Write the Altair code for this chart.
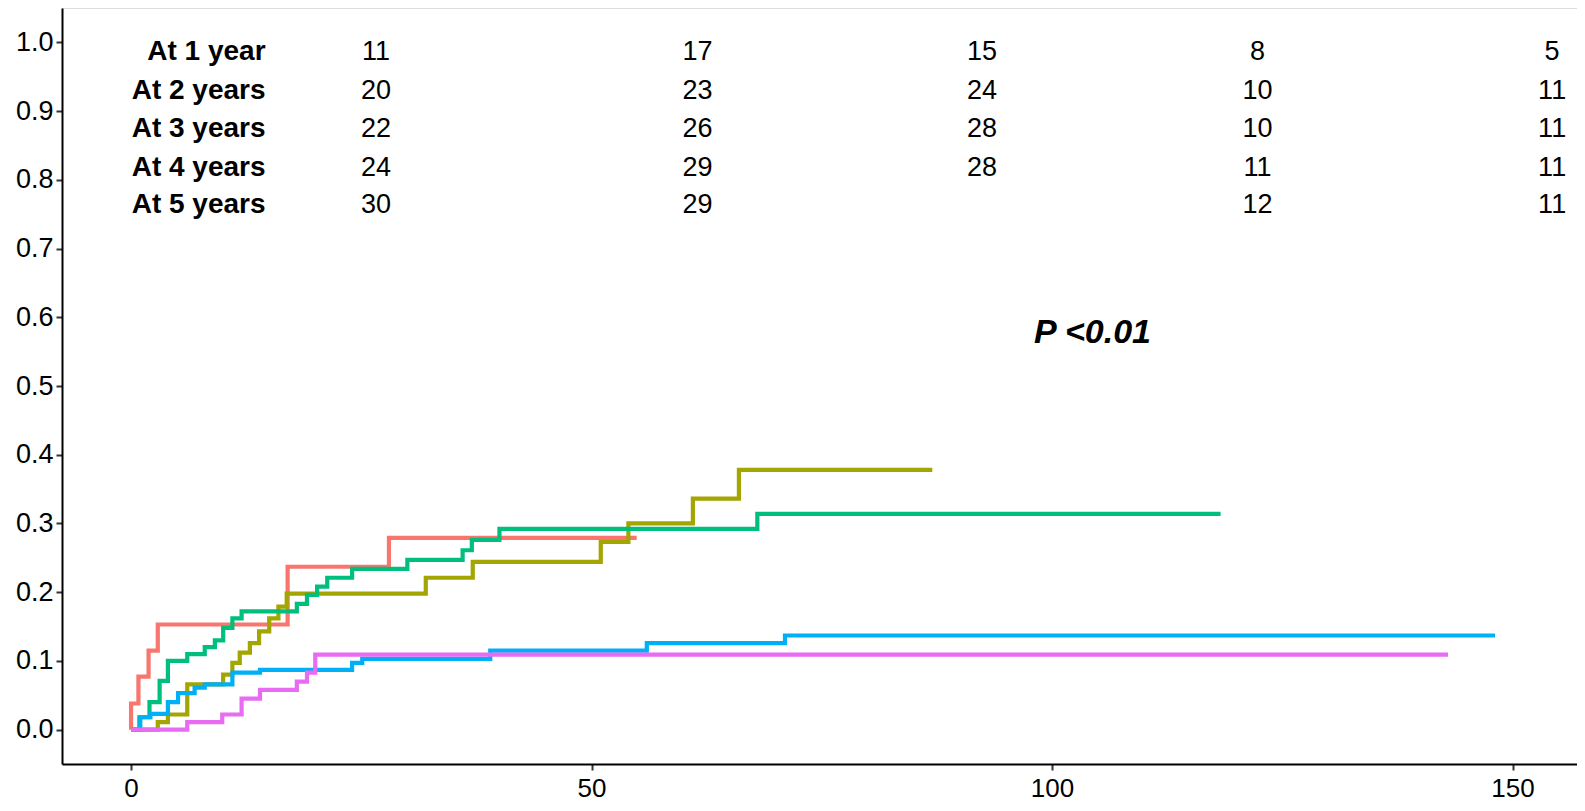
import altair as alt
import pandas as pd

# ---------------- data ----------------
groups = ["Group 1", "Group 2", "Group 3", "Group 4", "Group 5"]
colors = ["#F8766D", "#A3A500", "#00BF7D", "#00B0F6", "#E76BF3"]

red_t = [0, 0, 0.8, 1.9, 2.9, 17.0, 28.0, 54.9]
red_y = [0, 0.038, 0.077, 0.115, 0.153, 0.237, 0.279, 0.279]

olive_t = [0, 2.9, 4.0, 6.1, 10.0, 11.0, 11.8, 12.9, 13.9, 15.0, 16.0, 16.9,
           32.0, 37.1, 51.0, 54.0, 61.0, 66.0, 87.0]
olive_y = [0, 0.011, 0.022, 0.066, 0.080, 0.097, 0.112, 0.126, 0.143, 0.162,
           0.179, 0.198, 0.221, 0.244, 0.273, 0.300, 0.336, 0.378, 0.378]

green_t = [0, 0.9, 2.0, 3.1, 4.0, 6.1, 8.0, 9.1, 10.0, 11.0, 12.0, 18.0, 19.1,
           20.2, 21.3, 24.0, 30.0, 36.0, 37.0, 40.0, 68.0, 118.3]
green_y = [0, 0.018, 0.040, 0.071, 0.100, 0.110, 0.120, 0.130, 0.148, 0.162,
           0.172, 0.183, 0.196, 0.208, 0.221, 0.234, 0.247, 0.261, 0.276,
           0.292, 0.314, 0.314]

blue_t = [0, 1.0, 2.1, 4.0, 5.1, 6.9, 8.0, 11.0, 14.0, 24.0, 25.1, 39.0, 56.0,
          71.0, 148.1]
blue_y = [0, 0.018, 0.023, 0.040, 0.053, 0.061, 0.066, 0.083, 0.087, 0.097,
          0.103, 0.115, 0.126, 0.137, 0.137]

magenta_t = [0, 6.1, 9.9, 12.0, 14.0, 18.0, 19.1, 20.0, 143.0]
magenta_y = [0, 0.011, 0.022, 0.045, 0.058, 0.070, 0.083, 0.109, 0.109]

row_labels = ["At 1 year", "At 2 years", "At 3 years", "At 4 years", "At 5 years"]
col1 = ["11", "20", "22", "24", "30"]
col2 = ["17", "23", "26", "29", "29"]
col3 = ["15", "24", "28", "28", ""]
col4 = ["8", "10", "10", "11", "12"]
col5 = ["5", "11", "11", "11", "11"]

p_text = "P <0.01"

x_ticks = [0, 50, 100, 150]
y_ticks = [0.0, 0.1, 0.2, 0.3, 0.4, 0.5, 0.6, 0.7, 0.8, 0.9, 1.0]

# ---------------- layout constants ----------------
row_y = [0.974, 0.918, 0.862, 0.806, 0.751]
col_x = [26.6, 61.5, 92.4, 122.3, 154.3]
label_x = 14.6
p_pos = (104.4, 0.563)

FONT = "Liberation Sans"

x_scale = alt.Scale(domain=[-7.5, 157], nice=False, zero=False)
y_scale = alt.Scale(domain=[-0.05, 1.05], nice=False, zero=False)

x_axis = alt.Axis(values=x_ticks, title=None, grid=False, format="d",
                  labelFontSize=26, labelFont=FONT, labelColor="#000000",
                  tickSize=6, tickWidth=2, tickColor="#333333",
                  domainColor="#000000", domainWidth=2, labelPadding=5)
y_axis = alt.Axis(values=y_ticks, title=None, grid=False, format=".1f",
                  labelFontSize=27, labelFont=FONT, labelColor="#000000",
                  tickSize=6, tickWidth=2, tickColor="#333333",
                  domainColor="#000000", domainWidth=2, labelPadding=3)

series = [(red_t, red_y), (olive_t, olive_y), (green_t, green_y),
          (blue_t, blue_y), (magenta_t, magenta_y)]

layers = []
for gi, (ts, ys) in enumerate(series):
    d = pd.DataFrame({"time": ts, "cuminc": ys,
                      "seq": list(range(len(ts))),
                      "group": [groups[gi]] * len(ts)})
    layers.append(
        alt.Chart(d).mark_line(interpolate="step-after", strokeWidth=4.2,
                               color=colors[gi], strokeCap="butt")
        .encode(
            x=alt.X("time:Q", scale=x_scale, axis=x_axis),
            y=alt.Y("cuminc:Q", scale=y_scale, axis=y_axis),
            order=alt.Order("seq:Q"),
        )
    )

# row labels
lab_df = pd.DataFrame({"x": [label_x] * 5, "y": row_y, "text": row_labels})
layers.append(
    alt.Chart(lab_df).mark_text(align="right", baseline="alphabetic",
                                font=FONT, fontSize=28, fontWeight="bold",
                                color="#000000")
    .encode(x=alt.X("x:Q", scale=x_scale), y=alt.Y("y:Q", scale=y_scale),
            text="text:N")
)

# number table
num_rows = []
for ci, col in enumerate([col1, col2, col3, col4, col5]):
    for ri, v in enumerate(col):
        if v != "":
            num_rows.append({"x": col_x[ci], "y": row_y[ri], "text": v})
num_df = pd.DataFrame(num_rows)
layers.append(
    alt.Chart(num_df).mark_text(align="center", baseline="alphabetic",
                                font=FONT, fontSize=27, color="#000000")
    .encode(x=alt.X("x:Q", scale=x_scale), y=alt.Y("y:Q", scale=y_scale),
            text="text:N")
)

# p value
p_df = pd.DataFrame({"x": [p_pos[0]], "y": [p_pos[1]], "text": [p_text]})
layers.append(
    alt.Chart(p_df).mark_text(align="center", baseline="alphabetic",
                              font=FONT, fontSize=34, fontWeight="bold",
                              fontStyle="italic", color="#000000")
    .encode(x=alt.X("x:Q", scale=x_scale), y=alt.Y("y:Q", scale=y_scale),
            text="text:N")
)

chart = alt.layer(*layers).properties(
    width=1515, height=756,
    autosize=alt.AutoSizeParams(type="none"),
    padding={"left": 54, "top": 0, "right": 0, "bottom": 39},
).configure_view(stroke=None).configure(background="white")

chart.save("out.html", embed_options={"renderer": "svg", "actions": False})
